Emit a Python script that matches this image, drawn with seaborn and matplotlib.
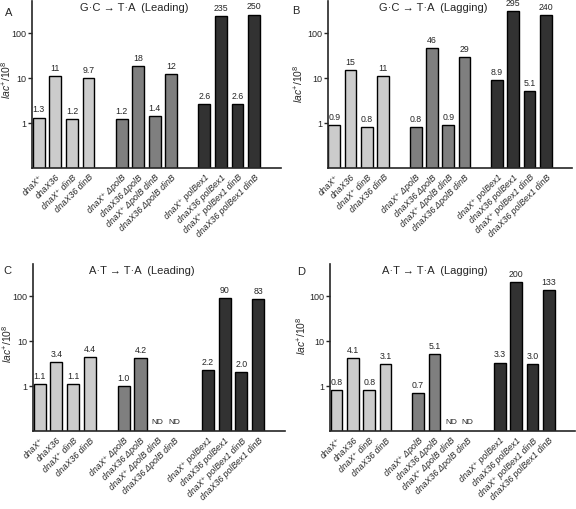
import numpy as np
import pandas as pd
import matplotlib
matplotlib.use('Agg')
import matplotlib.pyplot as plt
import seaborn as sns
from matplotlib.ticker import NullLocator

sns.set_style('ticks')
plt.rcParams['font.family'] = ['Liberation Sans', 'DejaVu Sans']
plt.rcParams['mathtext.fontset'] = 'custom'
plt.rcParams['mathtext.it'] = 'Liberation Sans:italic'
plt.rcParams['mathtext.rm'] = 'Liberation Sans'

# strains (x tick labels), same order in every panel
strains = ['dnaX\u207a', 'dnaX36', 'dnaX\u207a dinB', 'dnaX36 dinB',
           'dnaX\u207a \u0394polB', 'dnaX36 \u0394polB', 'dnaX\u207a \u0394polB dinB', 'dnaX36 \u0394polB dinB',
           'dnaX\u207a polBex1', 'dnaX36 polBex1', 'dnaX\u207a polBex1 dinB', 'dnaX36 polBex1 dinB']
groups = ['wt'] * 4 + ['polB'] * 4 + ['polBex1'] * 4
# slot of each bar on the x axis (one empty slot between the groups)
slots = [0, 1, 2, 3, 5, 6, 7, 8, 10, 11, 12, 13]

# lac+/10^8, None = ND
gc_leading = [1.3, 11, 1.2, 9.7, 1.2, 18, 1.4, 12, 2.6, 235, 2.6, 250]
gc_lagging = [0.9, 15, 0.8, 11, 0.8, 46, 0.9, 29, 8.9, 295, 5.1, 240]
at_leading = [1.1, 3.4, 1.1, 4.4, 1.0, 4.2, None, None, 2.2, 90, 2.0, 83]
at_lagging = [0.8, 4.1, 0.8, 3.1, 0.7, 5.1, None, None, 3.3, 200, 3.0, 133]

titles = ['G\u00b7C \u2192 T\u00b7A  (Leading)', 'G\u00b7C \u2192 T\u00b7A  (Lagging)',
          'A\u00b7T \u2192 T\u00b7A  (Leading)', 'A\u00b7T \u2192 T\u00b7A  (Lagging)']
letters = ['A', 'B', 'C', 'D']
palette = {'wt': '#cccccc', 'polB': '#7f7f7f', 'polBex1': '#323232'}


def fmt(v):
    if v >= 10:
        return '%d' % round(v)
    return '%.1f' % v


fig = plt.figure(figsize=(5.76, 5.10), dpi=100)
rects = [[0.056, 0.669, 0.431, 0.327], [0.569, 0.669, 0.424, 0.327],
         [0.057, 0.153, 0.438, 0.327], [0.573, 0.153, 0.425, 0.327]]
title_x = [0.41, 0.43, 0.43, 0.43]
letter_pos = [(0.008, 0.985), (0.507, 0.988), (0.005, 0.478), (0.516, 0.476)]
ylabel_pos = [(-0.077, 0.535), (-0.094, 0.51), (-0.075, 0.527), (-0.09, 0.58)]

for i, vals in enumerate([gc_leading, gc_lagging, at_leading, at_lagging]):
    ax = fig.add_axes(rects[i])
    df = pd.DataFrame({'pos': slots, 'value': [np.nan if v is None else v for v in vals],
                       'group': groups})
    sns.barplot(data=df, x='pos', y='value', hue='group', palette=palette,
                native_scale=True, width=0.72, dodge=False, errorbar=None,
                edgecolor='black', linewidth=1.0, legend=False, ax=ax)
    ax.set_yscale('log')
    ax.set_ylim(0.1, 500)
    ax.set_xlim(-0.4, 14.6)
    ax.set_yticks([1, 10, 100])
    ax.set_yticklabels(['1', '10', '100'])
    ax.yaxis.set_minor_locator(NullLocator())
    ax.tick_params(axis='y', labelsize=6.5, length=3, width=1, pad=1)
    ax.set_xticks(slots)
    ax.set_xticklabels(strains, rotation=45, ha='right', rotation_mode='anchor',
                       fontstyle='italic', fontsize=6.3)
    ax.tick_params(axis='x', length=0, pad=3)
    for sp in ['top', 'right']:
        ax.spines[sp].set_visible(False)
    for sp in ['left', 'bottom']:
        ax.spines[sp].set_linewidth(1.2)
    ax.set_xlabel('')
    ax.set_ylabel(r'$\mathit{lac}^{+}\mathit{/10}^{8}$', fontsize=7.5)
    ax.yaxis.set_label_coords(*ylabel_pos[i])

    for p, v in zip(slots, vals):
        if v is None:
            ax.text(p, 0.165, 'ND', ha='center', va='center', fontsize=6)
        else:
            ax.annotate(fmt(v), (p, v), xytext=(0, 3), textcoords='offset points',
                        ha='center', va='bottom', fontsize=6.3)

    ax.text(title_x[i], 0.965, titles[i], transform=ax.transAxes, ha='center',
            va='center', fontsize=8)
    fig.text(letter_pos[i][0], letter_pos[i][1], letters[i], ha='left', va='top', fontsize=8)

fig.savefig('out.png', dpi=100)
